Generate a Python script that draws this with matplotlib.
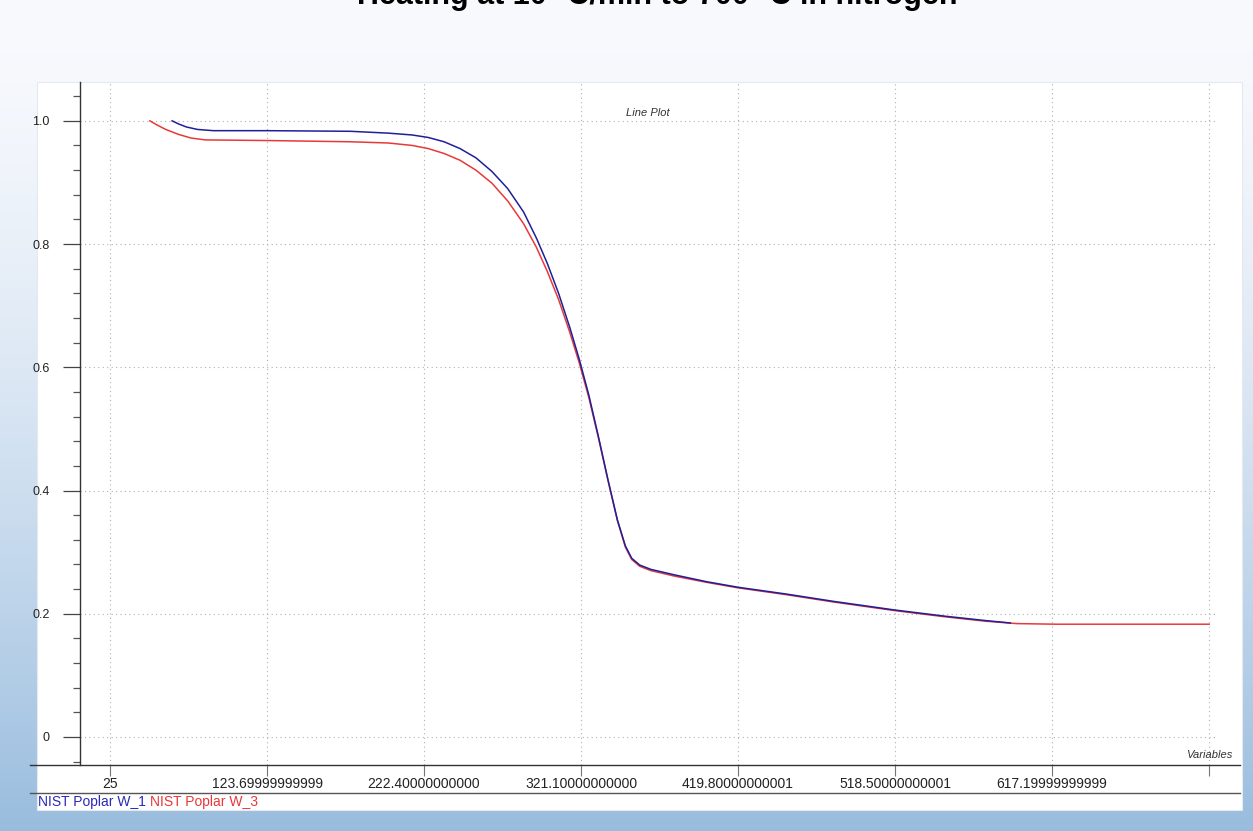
import numpy as np
import matplotlib.pyplot as plt
from matplotlib.lines import Line2D
from matplotlib.patches import Rectangle
from matplotlib.ticker import FixedLocator, MultipleLocator

plt.rcParams['font.family'] = ['Liberation Sans', 'DejaVu Sans']

# NIST Poplar W_1 (blue)
w1_temp = [64, 68, 73, 80, 90, 124, 176, 200, 215, 225, 235, 245, 255, 265, 275,
           285, 293, 300, 307, 314, 320, 326, 332, 338, 344, 349, 353, 358, 365,
           380, 400, 419.8, 450, 480, 518.5, 550, 575, 591]
w1_mass = [1.000, 0.995, 0.990, 0.986, 0.984, 0.984, 0.983, 0.980, 0.977, 0.973,
           0.966, 0.955, 0.940, 0.918, 0.890, 0.852, 0.810, 0.768, 0.720, 0.665,
           0.613, 0.555, 0.488, 0.418, 0.352, 0.310, 0.290, 0.279, 0.272, 0.263,
           0.252, 0.243, 0.232, 0.220, 0.206, 0.196, 0.189, 0.185]

# NIST Poplar W_3 (red)
w3_temp = [50, 54, 60, 68, 76, 85, 124, 176, 200, 215, 225, 235, 245, 255, 265,
           275, 285, 293, 300, 307, 314, 320, 326, 332, 338, 344, 349, 353, 358,
           365, 380, 400, 419.8, 450, 480, 518.5, 550, 575, 595, 620, 716]
w3_mass = [1.000, 0.994, 0.986, 0.978, 0.972, 0.969, 0.968, 0.966, 0.964, 0.960,
           0.955, 0.947, 0.936, 0.920, 0.899, 0.870, 0.833, 0.795, 0.755, 0.710,
           0.657, 0.607, 0.551, 0.486, 0.417, 0.351, 0.308, 0.288, 0.277, 0.270,
           0.261, 0.251, 0.242, 0.231, 0.219, 0.205, 0.195, 0.188, 0.184, 0.183,
           0.183]

x_ticks = [25, 123.7, 222.4, 321.1, 419.8, 518.5, 617.2, 715.9]
x_labels = ['25', '123.69999999999', '222.40000000000', '321.10000000000',
            '419.80000000001', '518.50000000001', '617.19999999999', '']
y_ticks = [0, 0.2, 0.4, 0.6, 0.8, 1.0]
y_labels = ['0', '0.2', '0.4', '0.6', '0.8', '1.0']

W, H = 1253, 831
fig = plt.figure(figsize=(W / 100, H / 100), dpi=100)

# background gradient
bg = fig.add_axes([0, 0, 1, 1], zorder=-10)
ramp = np.linspace(0, 1, 256) ** 1.5
top = np.array([0.975, 0.98, 0.995])
bot = np.array([0.60, 0.74, 0.87])
img = top[None, :] * (1 - ramp[:, None]) + bot[None, :] * ramp[:, None]
bg.imshow(img[:, None, :], aspect='auto', extent=[0, 1, 0, 1], origin='upper')
bg.set_xlim(0, 1)
bg.set_ylim(0, 1)
bg.axis('off')

def fx(px):
    return px / W

def fy(py):
    return 1 - py / H

# white panel
fig.patches.append(Rectangle((fx(37), fy(810)), fx(1242) - fx(37), fy(82) - fy(810),
                             transform=fig.transFigure, facecolor='white',
                             edgecolor='#e6e9ef', lw=0.8, zorder=-5))

# title, cut off at the top edge like the reference
fig.text(fx(657), fy(4), 'Heating at 10 °C/min to 700 °C in nitrogen',
         ha='center', va='baseline', fontsize=22, fontweight='bold',
         color='black')

ax = fig.add_axes([fx(80), fy(765), fx(1215) - fx(80), fy(82) - fy(765)])
ax.set_facecolor('none')
ax.plot(w3_temp, w3_mass, color='#e8393a', lw=1.1)
ax.plot(w1_temp, w1_mass, color='#1f1f9a', lw=1.1)

ax.set_xlim(6.1, 719.7)
ax.set_ylim(-0.0455, 1.063)

ax.xaxis.set_major_locator(FixedLocator(x_ticks))
ax.set_xticklabels(x_labels)
ax.yaxis.set_major_locator(FixedLocator(y_ticks))
ax.set_yticklabels(y_labels)
ax.yaxis.set_minor_locator(MultipleLocator(0.04))

for s in ['top', 'right', 'bottom']:
    ax.spines[s].set_visible(False)
ax.spines['left'].set_color('#333333')
ax.spines['left'].set_linewidth(1.0)

ax.tick_params(axis='y', which='major', direction='out', length=12, width=0.9,
               color='#444444', labelsize=9, pad=10, labelcolor='#222222')
ax.tick_params(axis='y', which='minor', direction='out', length=5, width=0.9,
               color='#555555')
ax.tick_params(axis='x', which='major', direction='out', length=8, width=0.8,
               color='#777777', labelsize=10, pad=1, labelcolor='#222222')

ax.grid(True, which='major', linestyle=(0, (1, 3)), color='#b0b0b0', lw=0.8)

ax.text(0.5, 0.955, 'Line Plot', transform=ax.transAxes, ha='center', va='center',
        fontsize=8, style='italic', color='#333333')

# x axis line and lower frame line
fig.add_artist(Line2D([fx(30), fx(1240)], [fy(765), fy(765)], color='#333333', lw=1.0))
fig.add_artist(Line2D([fx(30), fx(1240)], [fy(793), fy(793)], color='#555555', lw=1.0))

fig.text(fx(1232), fy(758), 'Variables', ha='right', va='baseline', fontsize=8,
         style='italic', color='#333333')

# legend below the axis
t1 = fig.text(fx(38), fy(806), 'NIST Poplar W_1', ha='left', va='baseline',
              fontsize=10, color='#2a2ab8')
fig.canvas.draw()
bb = t1.get_window_extent()
fig.text((bb.x1 + 4) / W, fy(806), 'NIST Poplar W_3', ha='left', va='baseline',
         fontsize=10, color='#e83838')

plt.savefig('out.png', dpi=100)
